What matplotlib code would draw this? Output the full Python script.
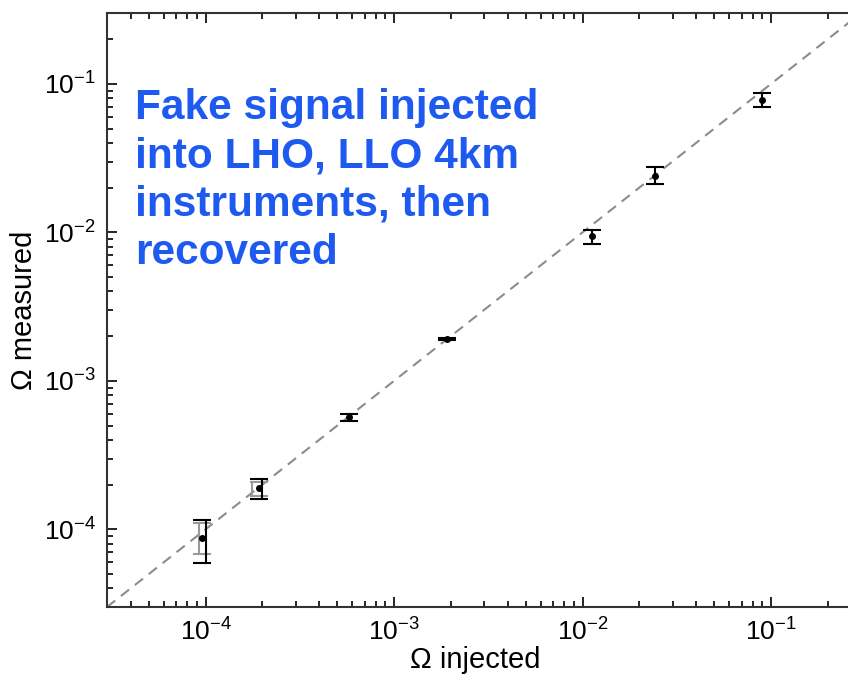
import matplotlib
matplotlib.use('Agg')
import matplotlib.pyplot as plt

plt.rcParams['font.family'] = ['Liberation Sans', 'DejaVu Sans']

# recovered points (injected vs measured)
inj = [9.6e-5, 1.93e-4, 5.74e-4, 1.91e-3, 1.12e-2, 2.41e-2, 9.0e-2]
meas = [8.7e-5, 1.9e-4, 5.67e-4, 1.91e-3, 9.4e-3, 2.41e-2, 7.8e-2]

# black error bars
bar_x = [1.01e-4, 2.0e-4, 5.74e-4, 1.91e-3, 1.12e-2, 2.41e-2, 9.0e-2]
bar_hi = [1.155e-4, 2.19e-4, 5.98e-4, 1.95e-3, 1.04e-2, 2.77e-2, 8.67e-2]
bar_lo = [5.98e-5, 1.61e-4, 5.4e-4, 1.87e-3, 8.3e-3, 2.13e-2, 7.0e-2]

# grey (statistical only) error bars on the two weakest injections
grey_x = [9.2e-5, 1.77e-4]
grey_cap_x = [9.6e-5, 1.93e-4]
grey_hi = [1.10e-4, 2.1e-4]
grey_lo = [6.8e-5, 1.69e-4]

lims = [3e-5, 0.3]

fig = plt.figure(figsize=(8.48, 6.77), dpi=100)
ax = fig.add_axes([107/848, 70/677, 754/848, 594/677])
ax.set_xscale('log')
ax.set_yscale('log')
ax.set_xlim(lims)
ax.set_ylim(lims)

ax.plot(lims, lims, '--', color='#8c8c8c', lw=1.5, dashes=(5, 3.5), zorder=1)

# grey bars: stems offset left, caps centred on the point
ax.vlines(grey_x, grey_lo, grey_hi, color='#999999', lw=1.5, zorder=2)
ax.plot(grey_cap_x, grey_hi, '_', color='#999999', ms=13, mew=1.5, zorder=2)
ax.plot(grey_cap_x, grey_lo, '_', color='#999999', ms=13, mew=1.5, zorder=2)

# black bars
ax.vlines(bar_x, bar_lo, bar_hi, color='black', lw=1.5, zorder=3)
ax.plot(inj, bar_hi, '_', color='black', ms=13, mew=1.5, zorder=3)
ax.plot(inj, bar_lo, '_', color='black', ms=13, mew=1.5, zorder=3)

ax.plot(inj, meas, 'o', color='black', ms=4, zorder=4)

ax.tick_params(which='both', direction='in', top=True, right=True, labelsize=19, pad=8, width=1.2)
ax.tick_params(which='major', length=7)
ax.tick_params(which='minor', length=4)
for s in ax.spines.values():
    s.set_linewidth(1.5)
    s.set_color('#333333')

ax.set_xlabel('\u03a9 injected', fontsize=21, labelpad=0)
ax.set_ylabel('\u03a9 measured', fontsize=21, labelpad=4)
ax.xaxis.set_label_coords(0.488, -0.066)

fig.text(135/848, 1 - 88/677, 'Fake signal injected\ninto LHO, LLO 4km\ninstruments, then\nrecovered',
         fontsize=30.5, fontweight='bold', color='#1f5af0', ha='left', va='top', linespacing=1.27)

fig.savefig('out.png', dpi=100)
